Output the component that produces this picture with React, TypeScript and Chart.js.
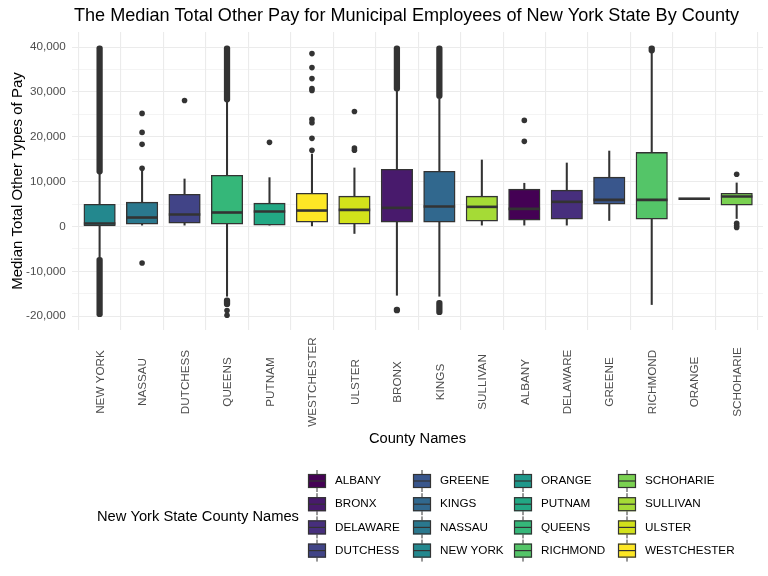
import React, { useEffect, useRef } from 'react';
import { Chart, registerables } from 'chart.js';

Chart.register(...registerables);

const FONT = "'Liberation Sans', Arial, sans-serif";

const chartTitle = 'The Median Total Other Pay for Municipal Employees of New York State By County';
const xAxisTitle = 'County Names';
const yAxisTitle = 'Median Total Other Types of Pay';
const legendTitle = 'New York State County Names';

// x-axis order
const counties = ['NEW YORK', 'NASSAU', 'DUTCHESS', 'QUEENS', 'PUTNAM', 'WESTCHESTER', 'ULSTER', 'BRONX', 'KINGS', 'SULLIVAN', 'ALBANY', 'DELAWARE', 'GREENE', 'RICHMOND', 'ORANGE', 'SCHOHARIE'];
const q1Values = [100, 530, 750, 530, 300, 970, 530, 970, 970, 1190, 1420, 1650, 4980, 1650, 6200, 4760];
const medianValues = [650, 2000, 2670, 3120, 3340, 3560, 3710, 4160, 4450, 4380, 3940, 5500, 5940, 5940, 6200, 6680];
const q3Values = [4950, 5420, 7200, 11430, 5200, 7420, 6760, 12770, 12320, 6760, 8320, 8100, 11000, 16550, 6200, 7420];
const whiskerLow = [-6900, 300, 300, -15570, 300, 0, -1560, -15350, -15570, 300, 300, 300, 1340, -17420, 6200, 1780];
const whiskerHigh = [11700, 12500, 10600, 27800, 10900, 16180, 13060, 30190, 28560, 14840, 9650, 14170, 16840, 38700, 6200, 9720];
// individual outliers per county
const outlierPoints: number[][] = [
  [],
  [13000, 18330, 21000, 25230, -8150],
  [28100],
  [-18750, -19800],
  [18770],
  [38580, 35460, 33000, 30800, 30350, 23900, 23150, 19670, 17000],
  [25670, 17500, 17000],
  [],
  [],
  [],
  [23670, 19000],
  [],
  [],
  [],
  [],
  [11660, 700, 200, -200],
];
// dense runs of outliers (overlapping points) per county: [low, high]
const outlierRuns: number[][][] = [
  [[11700, 40300], [-20150, -6900]],
  [],
  [],
  [[27800, 40300], [-17900, -15900]],
  [],
  [],
  [],
  [[30190, 40300], [-19300, -18000]],
  [[28560, 40300], [-19700, -16500]],
  [],
  [],
  [],
  [],
  [[38700, 40300]],
  [],
  [],
];

// y grid values (major = labelled every 10,000; minor in between)
const yGridValues = [-20000, -15000, -10000, -5000, 0, 5000, 10000, 15000, 20000, 25000, 30000, 35000, 40000];

// legend (alphabetical) and viridis colours
const legendNames = ['ALBANY', 'BRONX', 'DELAWARE', 'DUTCHESS', 'GREENE', 'KINGS', 'NASSAU', 'NEW YORK', 'ORANGE', 'PUTNAM', 'QUEENS', 'RICHMOND', 'SCHOHARIE', 'SULLIVAN', 'ULSTER', 'WESTCHESTER'];
const legendColors = ['#440154', '#481A6C', '#472F7D', '#414487', '#39568C', '#31688E', '#2A788E', '#23888E', '#1F988B', '#22A884', '#35B779', '#54C568', '#7AD151', '#A5DB36', '#D2E21B', '#FDE725'];

const colorFor = (name: string) => legendColors[legendNames.indexOf(name)];

const DARK = '#333333';

const medianPlugin = {
  id: 'medianLines',
  afterDatasetsDraw(chart: any) {
    const ctx = chart.ctx;
    const x = chart.scales.x;
    const y = chart.scales.y;
    const boxMeta = chart.getDatasetMeta(1);
    ctx.save();
    ctx.strokeStyle = DARK;
    ctx.lineWidth = 2.6;
    counties.forEach((_, i) => {
      const el = boxMeta.data[i];
      const w = el ? el.width : 31;
      const px = x.getPixelForValue(i);
      const py = y.getPixelForValue(medianValues[i]);
      ctx.beginPath();
      ctx.moveTo(px - w / 2, py);
      ctx.lineTo(px + w / 2, py);
      ctx.stroke();
    });
    ctx.restore();
  },
};

const textPlugin = {
  id: 'titleAndLegend',
  afterDraw(chart: any) {
    const ctx = chart.ctx;
    const xs = chart.scales.x;
    ctx.save();
    // title
    ctx.fillStyle = '#000000';
    ctx.font = `18.1px ${FONT}`;
    ctx.textAlign = 'left';
    ctx.textBaseline = 'middle';
    ctx.fillText(chartTitle, chart.chartArea.left + 2, 16);

    // x tick labels, rotated and centred
    ctx.font = `11.7px ${FONT}`;
    ctx.fillStyle = '#4D4D4D';
    ctx.textAlign = 'center';
    counties.forEach((name, i) => {
      const px = xs.getPixelForValue(i);
      ctx.save();
      ctx.translate(px + 1, 382);
      ctx.rotate(-Math.PI / 2);
      ctx.fillText(name, 0, 0);
      ctx.restore();
    });

    // legend title
    ctx.textAlign = 'left';
    ctx.fillStyle = '#000000';
    ctx.font = `14.7px ${FONT}`;
    ctx.fillText(legendTitle, 97, 517);

    // legend keys
    const colX = [308, 413, 514, 618];
    const rowY = [481, 504.2, 527.4, 550.6];
    ctx.font = `11.7px ${FONT}`;
    legendNames.forEach((name, k) => {
      const c = Math.floor(k / 4);
      const r = k % 4;
      const kx = colX[c];
      const ky = rowY[r];
      const cx = kx + 9;
      ctx.strokeStyle = DARK;
      ctx.lineWidth = 1;
      ctx.beginPath();
      ctx.moveTo(cx, ky - 11);
      ctx.lineTo(cx, ky - 7);
      ctx.moveTo(cx, ky + 7);
      ctx.lineTo(cx, ky + 11);
      ctx.stroke();
      ctx.fillStyle = legendColors[k];
      ctx.fillRect(kx, ky - 7, 18, 14);
      ctx.lineWidth = 1.2;
      ctx.strokeRect(kx + 0.5, ky - 6.5, 17, 13);
      ctx.beginPath();
      ctx.moveTo(kx, ky);
      ctx.lineTo(kx + 18, ky);
      ctx.stroke();
      ctx.fillStyle = '#000000';
      ctx.fillText(name, kx + 27, ky);
    });
    ctx.restore();
  },
};

export default function App() {
  const canvasRef = useRef<HTMLCanvasElement | null>(null);

  useEffect(() => {
    const canvas = canvasRef.current;
    if (!canvas) return;

    const whiskerData = counties.map((_, i) => ({ x: i, y: [whiskerLow[i], whiskerHigh[i]] }));
    const boxData = counties.map((_, i) => ({ x: i, y: [q1Values[i], q3Values[i]] }));
    const runData: any[] = [];
    outlierRuns.forEach((runs, i) => runs.forEach((r) => runData.push({ x: i, y: [r[0], r[1]] })));
    const pointData: any[] = [];
    outlierPoints.forEach((pts, i) => pts.forEach((v) => pointData.push({ x: i, y: v })));

    const chart = new Chart(canvas, {
      type: 'bar',
      data: {
        datasets: [
          {
            type: 'bar',
            label: 'whiskers',
            data: whiskerData as any,
            backgroundColor: DARK,
            barThickness: 1.4,
            grouped: false,
            order: 4,
          } as any,
          {
            type: 'bar',
            label: 'boxes',
            data: boxData as any,
            backgroundColor: counties.map(colorFor),
            borderColor: DARK,
            borderWidth: 1.4,
            borderSkipped: false,
            barThickness: 31.5,
            grouped: false,
            order: 3,
          } as any,
          {
            type: 'bar',
            label: 'outlier runs',
            data: runData,
            backgroundColor: DARK,
            barThickness: 5.6,
            borderRadius: 2.8,
            borderSkipped: false,
            grouped: false,
            order: 2,
          } as any,
          {
            type: 'scatter',
            label: 'outliers',
            data: pointData,
            backgroundColor: DARK,
            borderWidth: 0,
            pointRadius: 2.8,
            order: 1,
          } as any,
        ],
      },
      options: {
        animation: false,
        responsive: false,
        maintainAspectRatio: false,
        layout: { padding: { top: 32, right: 5, bottom: 126, left: 0 } },
        plugins: {
          legend: { display: false },
          tooltip: { enabled: false },
          title: { display: false },
        },
        scales: {
          x: {
            type: 'linear',
            min: -0.65,
            max: 15.62,
            offset: false,
            grid: { color: '#EBEBEB', lineWidth: 1.1, drawTicks: false },
            border: { display: false },
            ticks: { display: false },
            afterBuildTicks: (s: any) => {
              s.ticks = counties.map((_, i) => ({ value: i }));
            },
            title: {
              display: true,
              text: xAxisTitle,
              color: '#000000',
              font: { family: FONT, size: 14.7 },
              padding: { top: 0, bottom: 2 },
            },
            afterFit: (s: any) => {
              s.height = 120;
            },
          },
          y: {
            type: 'linear',
            min: -23100,
            max: 43400,
            grid: {
              color: '#EBEBEB',
              drawTicks: false,
              lineWidth: (c: any) => (c.tick && c.tick.value % 10000 === 0 ? 1.1 : 0.55),
            },
            border: { display: false },
            afterBuildTicks: (s: any) => {
              s.ticks = yGridValues.map((v) => ({ value: v }));
            },
            ticks: {
              autoSkip: false,
              padding: 6.3,
              color: '#4D4D4D',
              font: { family: FONT, size: 11.7 },
              callback: (v: any) => (v % 10000 === 0 ? Number(v).toLocaleString('en-US') : ''),
            },
            title: {
              display: true,
              text: yAxisTitle,
              color: '#000000',
              font: { family: FONT, size: 15 },
              padding: { top: 8.5, bottom: 0 },
            },
            afterFit: (s: any) => {
              s.width = 72;
            },
          },
        },
      } as any,
      plugins: [medianPlugin, textPlugin],
    });

    return () => {
      chart.destroy();
    };
  }, []);

  return (
    <div style={{ position: 'fixed', left: 0, top: 0, width: 768, height: 576, background: '#FFFFFF' }}>
      <canvas ref={canvasRef} width={768} height={576} style={{ width: 768, height: 576, display: 'block' }} />
    </div>
  );
}
